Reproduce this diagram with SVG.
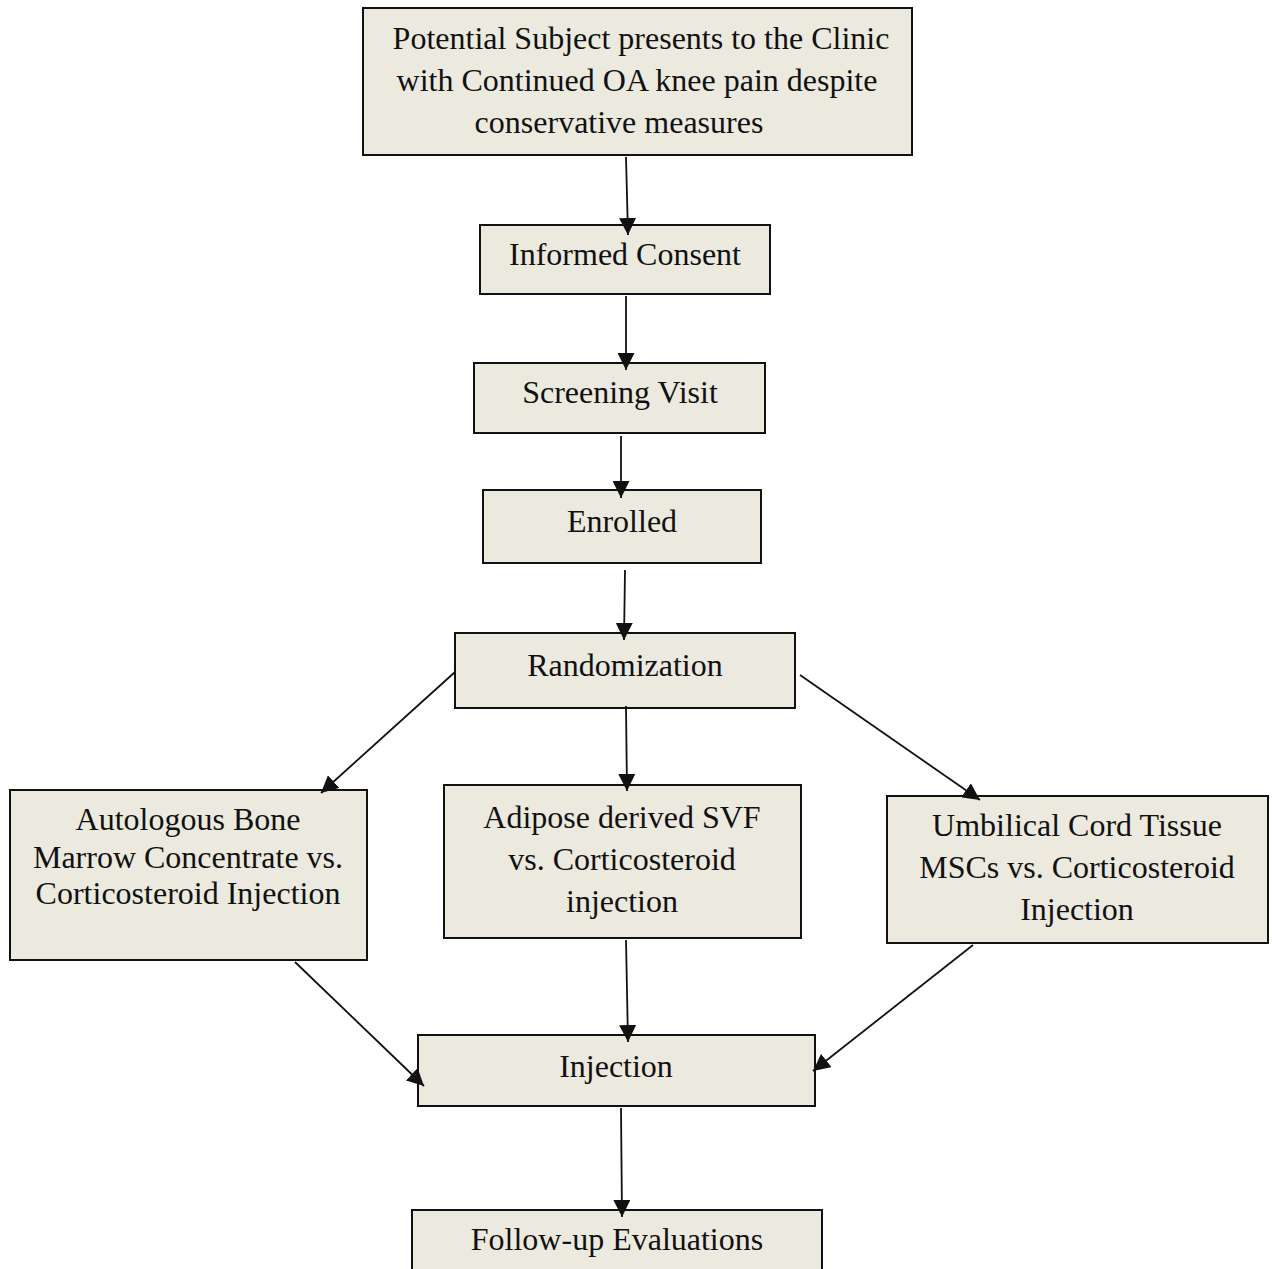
<svg xmlns="http://www.w3.org/2000/svg" width="1272" height="1269" viewBox="0 0 1272 1269">
<style>
.box{fill:#ECE9DF;stroke:#111;stroke-width:2}
.t{font-family:"Liberation Serif","Times New Roman",serif;font-size:32px;fill:#111;text-anchor:middle}
.c line{stroke:#111;stroke-width:1.8;marker-end:url(#ah)}
</style>
<defs>
<marker id="ah" viewBox="0 0 17 17" refX="17" refY="8.5" markerWidth="17" markerHeight="17" markerUnits="userSpaceOnUse" orient="auto">
<path d="M0,0 L17,8.5 L0,17 z" fill="#111"/>
</marker>
</defs>
<rect width="1272" height="1269" fill="#fff"/>
<g id="n1"><rect class="box" x="363" y="8" width="549" height="147"/>
<text class="t" x="641" y="49">Potential Subject presents to the Clinic</text>
<text class="t" x="637" y="91">with Continued OA knee pain despite</text>
<text class="t" x="619" y="133">conservative measures</text></g>
<g id="n2"><rect class="box" x="480" y="225" width="290" height="69"/>
<text class="t" x="625" y="265">Informed Consent</text></g>
<g id="n3"><rect class="box" x="474" y="363" width="291" height="70"/>
<text class="t" x="620" y="403">Screening Visit</text></g>
<g id="n4"><rect class="box" x="483" y="490" width="278" height="73"/>
<text class="t" x="622" y="532">Enrolled</text></g>
<g id="n5"><rect class="box" x="455" y="633" width="340" height="75"/>
<text class="t" x="625" y="676">Randomization</text></g>
<g id="n6"><rect class="box" x="10" y="790" width="357" height="170"/>
<text class="t" x="188" y="830">Autologous Bone</text>
<text class="t" x="188" y="868">Marrow Concentrate vs.</text>
<text class="t" x="188" y="904">Corticosteroid Injection</text></g>
<g id="n7"><rect class="box" x="444" y="785" width="357" height="153"/>
<text class="t" x="622" y="828">Adipose derived SVF</text>
<text class="t" x="622" y="870">vs. Corticosteroid</text>
<text class="t" x="622" y="912">injection</text></g>
<g id="n8"><rect class="box" x="887" y="796" width="381" height="147"/>
<text class="t" x="1077" y="836">Umbilical Cord Tissue</text>
<text class="t" x="1077" y="878">MSCs vs. Corticosteroid</text>
<text class="t" x="1077" y="920">Injection</text></g>
<g id="n9"><rect class="box" x="418" y="1035" width="397" height="71"/>
<text class="t" x="616" y="1077">Injection</text></g>
<g id="n10"><rect class="box" x="412" y="1210" width="410" height="70"/>
<text class="t" x="617" y="1250">Follow-up Evaluations</text></g>
<g id="connectors" class="c">
<line x1="626" y1="157" x2="628" y2="235"/>
<line x1="626" y1="296" x2="626" y2="370"/>
<line x1="621" y1="436" x2="621" y2="498"/>
<line x1="625" y1="570" x2="624" y2="640"/>
<line x1="455" y1="672" x2="321" y2="793"/>
<line x1="626" y1="706" x2="627" y2="791"/>
<line x1="800" y1="675" x2="980" y2="800"/>
<line x1="295" y1="962" x2="424" y2="1086"/>
<line x1="626" y1="940" x2="628" y2="1042"/>
<line x1="973" y1="945" x2="813" y2="1071"/>
<line x1="621" y1="1108" x2="622" y2="1217"/>
</g>
</svg>
